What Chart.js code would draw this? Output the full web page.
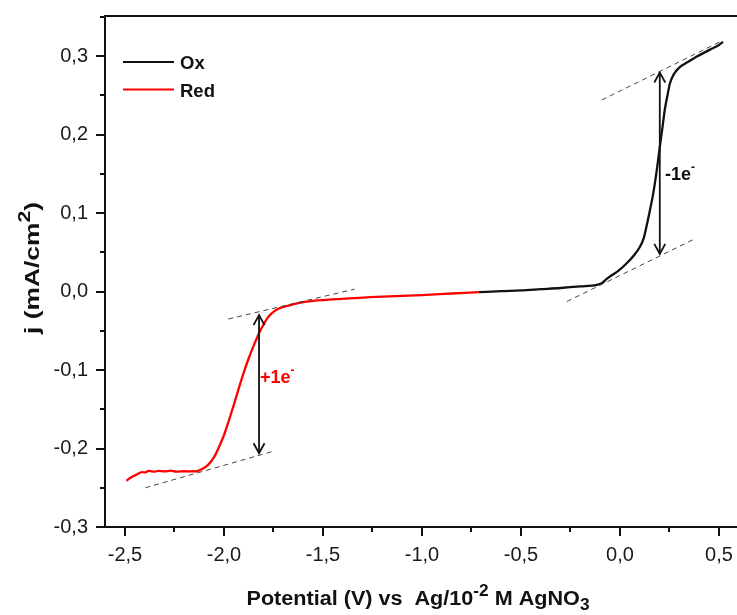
<!DOCTYPE html>
<html>
<head>
<meta charset="utf-8">
<title>Ox / Red voltammogram</title>
<script src="https://cdn.jsdelivr.net/npm/chart.js@4.4.1/dist/chart.umd.min.js"></script>
<style>
    html, body { margin: 0; padding: 0; background: #fff; }
    #wrap { width: 737px; height: 615px; position: relative; }
</style>
</head>
<body>
<div id="wrap"><canvas id="chart"></canvas></div>
<script>
// Anodic scan (Ox): potential (V) and current density (mA/cm2)
const oxPotential = [-0.713, -0.60, -0.50, -0.40, -0.30, -0.20, -0.117, -0.09, -0.067, -0.04, -0.01, 0.034, 0.07, 0.101, 0.12, 0.134, 0.15, 0.168, 0.185, 0.201, 0.215, 0.226, 0.24, 0.252, 0.275, 0.302, 0.34, 0.386, 0.43, 0.469, 0.50, 0.52];
const oxCurrent = [-0.0008, 0.0005, 0.0015, 0.003, 0.0045, 0.0065, 0.0085, 0.011, 0.016, 0.021, 0.026, 0.036, 0.046, 0.057, 0.068, 0.083, 0.102, 0.125, 0.153, 0.184, 0.210, 0.231, 0.250, 0.265, 0.278, 0.286, 0.292, 0.299, 0.305, 0.310, 0.314, 0.318];

// Cathodic scan (Red)
const redPotential = [-2.493, -2.47, -2.44, -2.414, -2.40, -2.38, -2.35, -2.33, -2.30, -2.27, -2.24, -2.20, -2.17, -2.138, -2.11, -2.079, -2.05, -2.025, -2.00, -1.975, -1.95, -1.925, -1.90, -1.875, -1.85, -1.825, -1.80, -1.775, -1.75, -1.725, -1.70, -1.66, -1.626, -1.55, -1.408, -1.2, -1.0, -0.85, -0.713];
const redCurrent = [-0.241, -0.237, -0.233, -0.230, -0.2305, -0.2285, -0.2295, -0.2285, -0.2292, -0.2282, -0.2295, -0.2290, -0.2292, -0.229, -0.226, -0.2205, -0.211, -0.198, -0.183, -0.164, -0.144, -0.123, -0.103, -0.085, -0.069, -0.054, -0.042, -0.032, -0.026, -0.022, -0.0195, -0.017, -0.0148, -0.012, -0.0093, -0.0065, -0.0045, -0.0025, -0.0008];

// Tangents on the plateaus (x1, y1, x2, y2)
const oxTangents = [[-0.092, 0.244, 0.52, 0.320], [-0.268, -0.0127, 0.369, 0.066]];
const redTangents = [[-1.978, -0.035, -1.341, 0.003], [-2.397, -0.250, -1.752, -0.2036]];

// Double arrows marking the wave heights (x, yLow, yHigh)
const oxArrow = [0.201, 0.048, 0.279];
const redArrow = [-1.823, -0.206, -0.030];

// Wave labels anchored at (x, y)
const oxLabelAt = [0.227, 0.150];
const redLabelAt = [-1.818, -0.109];

const xTicks = [-2.5, -2.0, -1.5, -1.0, -0.5, 0.0, 0.5];
const yTicks = [-0.3, -0.2, -0.1, 0.0, 0.1, 0.2, 0.3];

const FONT = '"Liberation Sans", Arial, sans-serif';
const RED = '#ff0000';
const fmt = v => v.toFixed(1).replace('.', ',').replace('-0,0', '0,0');
const zip = (xs, ys) => xs.map((x, i) => ({ x, y: ys[i] }));

// Minor ticks halfway between the major ones
const xMinor = xTicks.map(v => v + 0.25).concat([-2.75]);
const yMinor = yTicks.map(v => v + 0.05).concat([-0.35]);

const dashed = (seg) => ({
    data: [{ x: seg[0], y: seg[1] }, { x: seg[2], y: seg[3] }],
    borderColor: '#444', borderWidth: 1, borderDash: [5, 4],
    showLine: true, pointRadius: 0, tension: 0
});
const arrowLine = (a) => ({
    data: [{ x: a[0], y: a[1] }, { x: a[0], y: a[2] }],
    borderColor: '#111', borderWidth: 1.8,
    showLine: true, pointRadius: 0
});
const curve = (label, xs, ys, color) => ({
    label, data: zip(xs, ys), borderColor: color, borderWidth: 2.3,
    showLine: true, pointRadius: 0, cubicInterpolationMode: 'monotone'
});

// Draw text pieces with super/subscripts, starting at x
function richText(ctx, parts, x, y) {
    parts.forEach(p => {
        ctx.font = p.font;
        ctx.fillText(p.t, x, y + (p.dy || 0));
        x += ctx.measureText(p.t).width;
    });
}
function richWidth(ctx, parts) {
    return parts.reduce((w, p) => { ctx.font = p.font; return w + ctx.measureText(p.t).width; }, 0);
}

function arrowHead(ctx, x, y, dir) {
    ctx.beginPath();
    ctx.moveTo(x - 5.5, y - dir * 10);
    ctx.lineTo(x, y);
    ctx.lineTo(x + 5.5, y - dir * 10);
    ctx.stroke();
}

const decorations = {
    id: 'decorations',
    afterDatasetsDraw(chart) {
        const { ctx, chartArea: a, scales: { x, y } } = chart;
        ctx.save();
        ctx.strokeStyle = '#111';
        ctx.fillStyle = '#111';

        // top frame line
        ctx.lineWidth = 2;
        ctx.beginPath();
        ctx.moveTo(a.left - 1, a.top);
        ctx.lineTo(a.right, a.top);
        ctx.stroke();

        // minor ticks
        xMinor.forEach(v => {
            const px = Math.round(x.getPixelForValue(v));
            if (px < a.left || px > a.right) return;
            ctx.beginPath(); ctx.moveTo(px, a.bottom); ctx.lineTo(px, a.bottom + 5); ctx.stroke();
        });
        yMinor.forEach(v => {
            const py = Math.round(y.getPixelForValue(v));
            if (py < a.top || py > a.bottom) return;
            ctx.beginPath(); ctx.moveTo(a.left, py); ctx.lineTo(a.left - 5, py); ctx.stroke();
        });

        // arrow heads
        ctx.lineWidth = 1.8;
        [oxArrow, redArrow].forEach(ar => {
            const px = x.getPixelForValue(ar[0]);
            arrowHead(ctx, px, y.getPixelForValue(ar[1]), 1);
            arrowHead(ctx, px, y.getPixelForValue(ar[2]), -1);
        });

        // wave labels
        const bold = '700 18px ' + FONT;
        const sup = '700 12px ' + FONT;
        ctx.textBaseline = 'alphabetic';
        ctx.textAlign = 'left';
        ctx.fillStyle = '#111';
        richText(ctx, [{ t: '-1e', font: bold }, { t: '-', font: sup, dy: -9 }],
            x.getPixelForValue(oxLabelAt[0]), y.getPixelForValue(oxLabelAt[1]) + 6);
        ctx.fillStyle = RED;
        richText(ctx, [{ t: '+1e', font: bold }, { t: '-', font: sup, dy: -9 }],
            x.getPixelForValue(redLabelAt[0]), y.getPixelForValue(redLabelAt[1]) + 6);

        // legend
        const items = [['Ox', '#111'], ['Red', RED]];
        items.forEach((it, i) => {
            const ly = a.top + 46 + i * 27.5;
            ctx.strokeStyle = it[1];
            ctx.lineWidth = 2;
            ctx.beginPath(); ctx.moveTo(a.left + 18, ly); ctx.lineTo(a.left + 69, ly); ctx.stroke();
            ctx.fillStyle = '#111';
            ctx.font = '700 18.5px ' + FONT;
            ctx.fillText(it[0], a.left + 75, ly + 7);
        });
        ctx.restore();
    },
    afterDraw(chart) {
        const { ctx } = chart;
        ctx.save();
        ctx.fillStyle = '#111';
        ctx.textAlign = 'left';
        ctx.textBaseline = 'alphabetic';
        const main = '700 20px ' + FONT;
        const small = '700 16px ' + FONT;

        // x title, stretched a little to the width seen in the figure
        const xt = [
            { t: 'Potential (V) vs  Ag/10', font: main },
            { t: '-2', font: small, dy: -9 },
            { t: ' M AgNO', font: main },
            { t: '3', font: small, dy: 5 }
        ];
        const xs = 343 / richWidth(ctx, xt);
        ctx.save();
        ctx.translate(418 - 343 / 2, 605);
        ctx.scale(xs, 1);
        richText(ctx, xt, 0, 0);
        ctx.restore();

        // y title, rotated
        const yt = [
            { t: 'j (mA/cm', font: main },
            { t: '2', font: small, dy: -9 },
            { t: ')', font: main }
        ];
        const ys = 132 / richWidth(ctx, yt);
        ctx.translate(39, 268 + 132 / 2);
        ctx.rotate(-Math.PI / 2);
        ctx.scale(ys, 1);
        richText(ctx, yt, 0, 0);
        ctx.restore();
    }
};

const tickFont = { family: FONT, size: 20 };

// keep the plot box where the figure has it: no extra room for edge labels
const noEdgePadding = s => {
    s.paddingTop = 0; s.paddingBottom = 0; s.paddingLeft = 0; s.paddingRight = 0;
};

new Chart(document.getElementById('chart'), {
    type: 'scatter',
    data: {
        datasets: [
            ...oxTangents.map(dashed),
            ...redTangents.map(dashed),
            arrowLine(oxArrow),
            arrowLine(redArrow),
            curve('Ox', oxPotential, oxCurrent, '#111'),
            curve('Red', redPotential, redCurrent, RED)
        ]
    },
    options: {
        responsive: true,
        maintainAspectRatio: false,
        animation: false,
        layout: { padding: { top: 16, right: 0, left: 0, bottom: 0 } },
        plugins: { legend: { display: false }, tooltip: { enabled: false } },
        scales: {
            x: {
                type: 'linear', min: -2.601, max: 0.591,
                afterBuildTicks: s => { s.ticks = xTicks.map(v => ({ value: v })); },
                afterFit: s => { s.height = 88; noEdgePadding(s); },
                grid: { display: true, drawOnChartArea: false, drawTicks: true, tickLength: 9, color: '#111', lineWidth: 2 },
                border: { display: true, color: '#111', width: 2 },
                ticks: { font: tickFont, color: '#1a1a1a', padding: 7, maxRotation: 0, autoSkip: false, callback: v => fmt(v) }
            },
            y: {
                type: 'linear', min: -0.3, max: 0.351,
                afterBuildTicks: s => { s.ticks = yTicks.map(v => ({ value: v })); },
                afterFit: s => { s.width = 105; noEdgePadding(s); },
                grid: { display: true, drawOnChartArea: false, drawTicks: true, tickLength: 9, color: '#111', lineWidth: 2 },
                border: { display: true, color: '#111', width: 2 },
                ticks: { font: tickFont, color: '#1a1a1a', padding: 8, autoSkip: false, callback: v => fmt(v) }
            }
        }
    },
    plugins: [decorations]
});
</script>
</body>
</html>
